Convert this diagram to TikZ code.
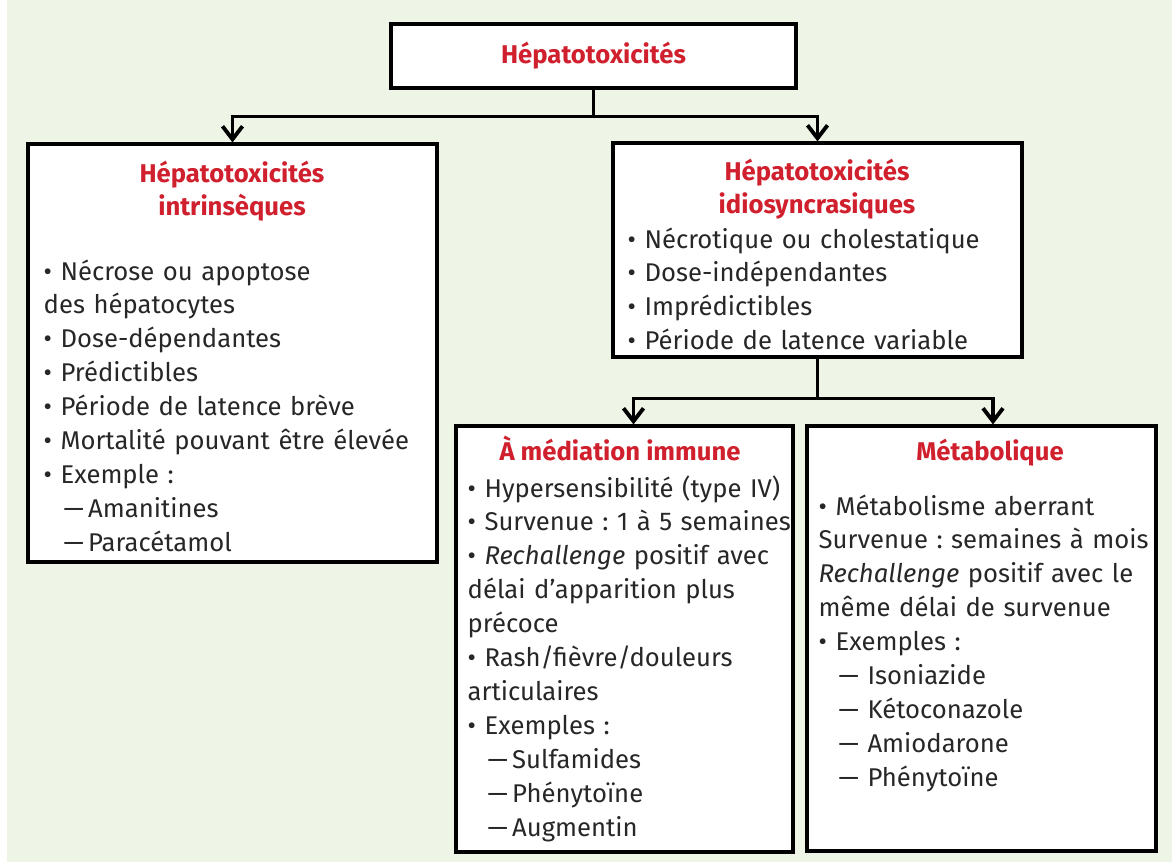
\documentclass[tikz,border=0pt]{standalone}
\usepackage{fontspec}
\setmainfont{Fira Sans}
\usetikzlibrary{arrows.meta}
\frenchspacing

\definecolor{fondvert}{RGB}{238,245,231}
\definecolor{rougetitre}{RGB}{208,32,46}
\definecolor{texte}{RGB}{40,38,38}

\tikzset{
  boite/.style={draw=black, line width=0.9pt, fill=white, inner sep=0pt},
  titre/.style={text=rougetitre, font=\fontsize{7.3}{9.67}\selectfont\bfseries, align=center, inner sep=0pt},
  corps/.style={text=texte, font=\fontsize{7.3}{9.67}\selectfont, align=left, inner sep=0pt, text width=5cm, anchor=base west},
  fleche/.style={line width=1pt, -{Straight Barb[length=1.3mm,width=2mm,line width=1.1pt]}}
}

\begin{document}
\begin{tikzpicture}

\useasboundingbox (0,0) rectangle (11.72,-8.63);
\fill[fondvert] (0.07,0) rectangle (11.72,-8.62);

% boites
\node[boite, minimum width=4.05cm, minimum height=0.64cm, titre] (hepato) at (5.935,-0.56) {Hépatotoxicités};
\node[boite, minimum width=4.09cm, minimum height=4.18cm] (intr) at (2.325,-3.53) {};
\node[boite, minimum width=4.09cm, minimum height=2.14cm] (idio) at (8.175,-2.50) {};
\node[boite, minimum width=3.37cm, minimum height=4.26cm] (immune) at (6.245,-6.39) {};
\node[boite, minimum width=3.49cm, minimum height=4.25cm] (metab) at (9.815,-6.385) {};

% fleches
\draw[fleche] (hepato.south) -- ++(0,-0.27) -| (intr.north);
\draw[fleche] (hepato.south) -- ++(0,-0.27) -| (idio.north);
\draw[fleche] (idio.south) -- ++(0,-0.40) -| ([xshift=0.09cm]immune.north);
\draw[fleche] (idio.south) -- ++(0,-0.40) -| ([xshift=0.115cm]metab.north);

% hepatotoxicites intrinseques
\node[titre, text width=4cm, anchor=base] (intrtitre) at (2.32,-1.82) {Hépatotoxicités\\intrinsèques};
\node[corps] (intrcorps) at (0.43,-2.80) {• Nécrose ou apoptose\\des hépatocytes\\• Dose-dépendantes\\• Prédictibles\\• Période de latence brève\\• Mortalité pouvant être élevée\\• Exemple :\\\hspace*{0.2cm}—\,Amanitines\\\hspace*{0.2cm}—\,Paracétamol};

% hepatotoxicites idiosyncrasiques
\node[titre, text width=4cm, anchor=base] (idiotitre) at (8.17,-1.80) {Hépatotoxicités\\idiosyncrasiques};
\node[corps] (idiocorps) at (6.27,-2.48) {• Nécrotique ou cholestatique\\• Dose-indépendantes\\• Imprédictibles\\• Période de latence variable};

% a mediation immune
\node[titre, anchor=base] (immunetitre) at (6.20,-4.60) {À médiation immune};
\node[corps] (immunecorps) at (4.67,-4.97) {• Hypersensibilité (type IV)\\• Survenue : 1 à 5 semaines\\• \textit{Rechallenge} positif avec\\délai d’apparition plus\\précoce\\• Rash/fièvre/douleurs\\articulaires\\• Exemples :\\\hspace*{0.2cm}—\,Sulfamides\\\hspace*{0.2cm}—\,Phénytoïne\\\hspace*{0.2cm}—\,Augmentin};

% metabolique
\node[titre, anchor=base] (metabtitre) at (9.90,-4.60) {Métabolique};
\node[corps] (metabcorps) at (8.18,-5.15) {• Métabolisme aberrant\\Survenue : semaines à mois\\\textit{Rechallenge} positif avec le\\même délai de survenue\\• Exemples :\\\hspace*{0.2cm}— Isoniazide\\\hspace*{0.2cm}— Kétoconazole\\\hspace*{0.2cm}— Amiodarone\\\hspace*{0.2cm}— Phénytoïne};

\end{tikzpicture}
\end{document}
